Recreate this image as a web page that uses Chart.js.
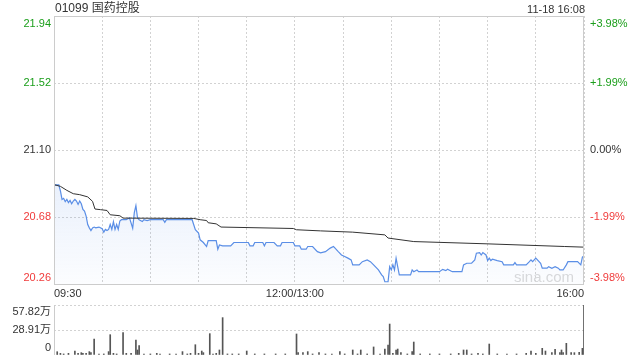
<!DOCTYPE html>
<html>
<head>
<meta charset="utf-8">
<script src="https://cdn.jsdelivr.net/npm/chart.js@4/dist/chart.umd.min.js"></script>
<style>
  html, body { margin: 0; padding: 0; background: #fff; }
  #wrap { position: relative; width: 640px; height: 360px; font-family: "Liberation Sans", Arial, "Noto Sans CJK SC", sans-serif; color: #333; }
  #title { position: absolute; left: 55px; top: 0; font-size: 12px; line-height: 16px; z-index: 2; }
  #stamp { position: absolute; right: 55px; top: 1px; font-size: 11px; line-height: 16px; z-index: 2; }
  #price { position: absolute; left: 0; top: 0; }
  #volume { position: absolute; left: 0; top: 300px; }
</style>
</head>
<body>
<div id="wrap">
  <div id="title">01099 国药控股</div>
  <div id="stamp">11-18 16:08</div>
  <canvas id="price" width="640" height="300"></canvas>
  <canvas id="volume" width="640" height="60"></canvas>
</div>
<script>
const prevClose = 21.10
const priceTicks = [20.26, 20.68, 21.10, 21.52, 21.94]
const gridMinutes = [0, 30, 60, 90, 120, 150, 180, 210, 240, 270, 300, 330]
const timeTicks = [0, 150, 330]
const timeLabels = ['09:30', '12:00/13:00', '16:00']
const volTicks = [0, 28.91, 57.82]
const volTickLabels = ['0', '28.91万', '57.82万']

// minute since 09:30 (lunch removed) and last price
const priceMinutes = [0, 1, 2, 3, 4, 5, 6, 7, 8, 9, 10, 11, 12, 13, 14, 15, 16, 17, 18, 19, 20, 21, 22, 23, 24, 25, 26, 28, 30, 31,
  32, 33, 34, 35, 36, 37, 38, 39, 40, 41, 42, 45, 47, 49, 50, 51, 52, 53, 55, 56, 58, 60, 68, 69, 70, 86, 88, 90, 91, 93,
  95, 96, 101, 102, 103, 105, 110, 112, 121, 122, 124, 125, 130, 131, 132, 137, 139, 141, 142, 149, 150, 153, 154, 157, 158, 161, 164, 166, 169, 172,
  174, 175, 177, 179, 181, 183, 185, 186, 190, 192, 195, 197, 199, 202, 204, 205, 206, 208, 209, 210, 211, 212, 213, 214, 215, 222, 223, 224, 226, 227,
  240, 242, 244, 245, 248, 254, 255, 257, 260, 262, 263, 265, 266, 267, 269, 270, 271, 272, 273, 276, 279, 280, 286, 287, 288, 294, 296, 297, 298, 300,
  303, 304, 307, 308, 310, 312, 314, 315, 317, 319, 320, 326, 328, 329, 330]
const priceValues = [20.875, 20.881, 20.881, 20.881, 20.843, 20.790, 20.797, 20.776, 20.790, 20.770, 20.784, 20.763, 20.780, 20.790, 20.780, 20.759, 20.780, 20.763, 20.728, 20.717, 20.686, 20.633, 20.612, 20.595, 20.612, 20.617, 20.612, 20.617, 20.606, 20.585,
  20.602, 20.595, 20.602, 20.633, 20.602, 20.650, 20.602, 20.633, 20.602, 20.655, 20.663, 20.663, 20.675, 20.610, 20.707, 20.751, 20.675, 20.663, 20.652, 20.663, 20.657, 20.663, 20.663, 20.646, 20.663, 20.663, 20.600, 20.579, 20.537, 20.520,
  20.495, 20.532, 20.532, 20.478, 20.505, 20.499, 20.499, 20.520, 20.520, 20.499, 20.499, 20.520, 20.520, 20.499, 20.520, 20.520, 20.499, 20.499, 20.520, 20.520, 20.499, 20.499, 20.478, 20.478, 20.495, 20.495, 20.463, 20.455, 20.463, 20.485,
  20.495, 20.485, 20.463, 20.442, 20.432, 20.422, 20.411, 20.380, 20.380, 20.400, 20.411, 20.400, 20.380, 20.348, 20.317, 20.306, 20.274, 20.274, 20.369, 20.348, 20.380, 20.348, 20.422, 20.369, 20.317, 20.317, 20.348, 20.337, 20.348, 20.337,
  20.337, 20.352, 20.344, 20.352, 20.337, 20.337, 20.380, 20.390, 20.390, 20.411, 20.453, 20.457, 20.442, 20.457, 20.442, 20.407, 20.422, 20.407, 20.415, 20.407, 20.400, 20.380, 20.380, 20.394, 20.380, 20.380, 20.400, 20.411, 20.400, 20.422,
  20.390, 20.359, 20.359, 20.369, 20.359, 20.369, 20.359, 20.348, 20.348, 20.380, 20.400, 20.400, 20.380, 20.428, 20.436]

// average price line
const avgMinutes = [0, 4, 8, 12, 16, 21, 24, 25.5, 29, 33, 35, 41, 43, 87, 91, 95, 96, 101, 104, 149, 151, 166, 186, 206, 208, 224, 269, 318, 330]
const avgValues = [20.883, 20.872, 20.847, 20.826, 20.820, 20.806, 20.778, 20.730, 20.726, 20.721, 20.694, 20.688, 20.673, 20.671, 20.663, 20.658, 20.644, 20.637, 20.617, 20.608, 20.600, 20.593, 20.585, 20.568, 20.548, 20.526, 20.512, 20.495, 20.491]

// volume, 万 shares
const volMinutes = [0, 2, 4, 6, 9, 13, 15, 17, 18, 20, 22, 23, 25, 28, 31, 34, 35, 37, 39, 43, 45, 48, 51, 52, 53, 56, 60, 64, 66, 72,
  76, 80, 83, 85, 88, 90, 92, 93, 97, 99, 101, 103, 105, 108, 111, 115, 120, 125, 131, 138, 144, 151, 152, 155, 158, 161, 165, 169, 173, 178,
  181, 186, 189, 191, 195, 199, 203, 206, 208, 209, 211, 213, 214, 216, 220, 223, 224, 228, 234, 240, 247, 252, 255, 257, 260, 264, 267, 271, 276, 282,
  288, 294, 297, 300, 304, 306, 310, 312, 315, 316, 317, 319, 322, 324, 327, 329, 330]
const volValues = [5.8, 3.8, 1.9, 1.2, 1.9, 4.6, 1.9, 2.7, 1.9, 1.9, 3.9, 2.7, 18.5, 1.2, 1.2, 3.9, 23.5, 1.9, 1.2, 25.8, 1.9, 1.9, 17.3, 5.8, 10.8, 1.2, 1.2, 1.9, 1.2, 1.2,
  1.2, 3.9, 1.2, 1.9, 11.9, 1.9, 4.6, 2.7, 24.7, 1.2, 1.9, 5.8, 43.2, 1.2, 1.2, 1.2, 4.6, 1.2, 1.2, 1.2, 1.2, 24.3, 2.7, 2.7, 3.9, 1.2, 2.7, 1.2, 1.2, 3.9,
  1.2, 5.8, 1.2, 5.8, 1.2, 9.3, 1.2, 6.9, 11.6, 35.8, 1.9, 5.8, 6.9, 2.7, 1.2, 3.9, 15.0, 1.2, 1.2, 1.2, 1.2, 1.9, 5.8, 5.8, 1.2, 1.9, 1.2, 12.7, 1.2, 1.2,
  1.2, 1.9, 4.6, 1.9, 7.7, 4.6, 2.7, 6.6, 2.7, 5.8, 2.7, 13.5, 2.7, 2.7, 3.1, 7.7, 57.82]

const FONT = '"Liberation Sans", Arial, "Noto Sans CJK SC", sans-serif'
const GREEN = '#1a9e1a'
const RED = '#f03b3b'
const TEXT = '#333'
const GRID = '#d2d2d2'
const FRAME = '#cccccc'

function tone(v) {
  if (v > prevClose + 1e-9) return GREEN
  if (v < prevClose - 1e-9) return RED
  return TEXT
}

function pct(v) {
  const p = (v - prevClose) / prevClose * 100
  return (p > 0.0001 ? '+' : '') + p.toFixed(2) + '%'
}

const priceText = {
  id: 'priceText',
  beforeDatasetsDraw(chart) {
    const { ctx, chartArea } = chart
    ctx.save()
    ctx.font = '15px ' + FONT
    ctx.fillStyle = '#dadada'
    ctx.textAlign = 'right'
    ctx.textBaseline = 'middle'
    ctx.fillText('sina.com', chartArea.right - 10, chartArea.bottom - 6)
    ctx.restore()
  },
  afterDraw(chart) {
    const { ctx, chartArea, scales } = chart
    const { left, right, top, bottom } = chartArea
    ctx.save()
    ctx.strokeStyle = FRAME
    ctx.lineWidth = 1
    ctx.strokeRect(left + 0.5, top + 0.5, right - left - 1, bottom - top)

    ctx.font = '11px ' + FONT
    ctx.textBaseline = 'middle'
    priceTicks.forEach((v, i) => {
      let py = scales.y.getPixelForValue(v)
      if (i === priceTicks.length - 1) py += 8
      if (i === 0) py -= 6
      ctx.fillStyle = tone(v)
      ctx.textAlign = 'right'
      ctx.fillText(v.toFixed(2), left - 3, py)
      ctx.textAlign = 'left'
      ctx.fillText(pct(v), right + 6, py)
    })

    ctx.fillStyle = TEXT
    timeTicks.forEach((m, i) => {
      const px = scales.x.getPixelForValue(m)
      ctx.textAlign = i === 0 ? 'left' : i === timeTicks.length - 1 ? 'right' : 'center'
      ctx.fillText(timeLabels[i], px, bottom + 10)
    })
    ctx.restore()
  }
}

const volumeText = {
  id: 'volumeText',
  afterDraw(chart) {
    const { ctx, chartArea, scales } = chart
    ctx.save()
    ctx.strokeStyle = FRAME
    ctx.beginPath()
    ctx.moveTo(chartArea.left + 0.5, chartArea.top)
    ctx.lineTo(chartArea.left + 0.5, chartArea.bottom)
    ctx.stroke()
    ctx.font = '11px ' + FONT
    ctx.fillStyle = TEXT
    ctx.textAlign = 'right'
    ctx.textBaseline = 'middle'
    volTicks.forEach((v, i) => {
      let py = scales.y.getPixelForValue(v)
      if (i === volTicks.length - 1) py += 7
      if (i === 0) py -= 7
      ctx.fillText(volTickLabels[i], chartArea.left - 3, py)
    })
    ctx.restore()
  }
}

new Chart(document.getElementById('price'), {
  type: 'line',
  data: {
    datasets: [
      {
        data: avgMinutes.map((m, i) => ({ x: m, y: avgValues[i] })),
        borderColor: '#333',
        borderWidth: 1,
        pointRadius: 0,
        tension: 0,
        fill: false
      },
      {
        data: priceMinutes.map((m, i) => ({ x: m, y: priceValues[i] })),
        borderColor: '#5a8ee6',
        borderWidth: 1.2,
        pointRadius: 0,
        tension: 0,
        fill: 'start',
        backgroundColor(context) {
          const { ctx, chartArea, scales } = context.chart
          if (!chartArea) return 'rgba(90,142,230,0.08)'
          const g = ctx.createLinearGradient(0, scales.y.getPixelForValue(20.88), 0, chartArea.bottom)
          g.addColorStop(0, 'rgba(90,142,230,0.13)')
          g.addColorStop(1, 'rgba(90,142,230,0.02)')
          return g
        }
      }
    ]
  },
  options: {
    responsive: false,
    animation: false,
    layout: { padding: { left: 54, right: 56, top: 16, bottom: 16 } },
    plugins: { legend: { display: false }, tooltip: { enabled: false } },
    scales: {
      x: {
        type: 'linear',
        min: 0,
        max: 330,
        afterBuildTicks(scale) { scale.ticks = gridMinutes.map(v => ({ value: v })) },
        ticks: { display: false },
        grid: { color: GRID, drawTicks: false },
        border: { display: false, dash: [2, 2] }
      },
      y: {
        min: priceTicks[0],
        max: priceTicks[priceTicks.length - 1],
        afterBuildTicks(scale) { scale.ticks = priceTicks.map(v => ({ value: v })) },
        ticks: { display: false },
        grid: { color: GRID, drawTicks: false },
        border: { display: false, dash: [2, 2] }
      }
    }
  },
  plugins: [priceText]
})

new Chart(document.getElementById('volume'), {
  type: 'bar',
  data: {
    datasets: [{
      data: volMinutes.map((m, i) => ({ x: m, y: volValues[i] })),
      backgroundColor: '#555',
      barThickness: 1
    }]
  },
  options: {
    responsive: false,
    animation: false,
    layout: { padding: { left: 54, right: 56, top: 5, bottom: 5 } },
    plugins: { legend: { display: false }, tooltip: { enabled: false } },
    scales: {
      x: { type: 'linear', min: 0, max: 330, offset: false, display: false },
      y: {
        min: 0,
        max: volTicks[volTicks.length - 1],
        afterBuildTicks(scale) { scale.ticks = volTicks.map(v => ({ value: v })) },
        ticks: { display: false },
        grid: { color: c => (c.tick && c.tick.value === 0 ? 'rgba(0,0,0,0)' : GRID), drawTicks: false },
        border: { display: false, dash: [2, 2] }
      }
    }
  },
  plugins: [volumeText]
})
</script>
</body>
</html>
